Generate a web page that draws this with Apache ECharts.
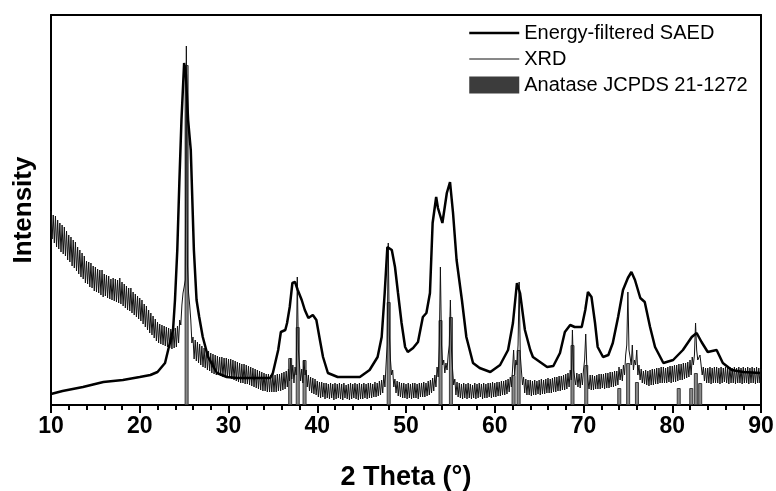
<!DOCTYPE html>
<html>
<head>
<meta charset="utf-8">
<script src="https://cdn.jsdelivr.net/npm/echarts@6/dist/echarts.min.js"></script>
<style>
  html, body { margin: 0; padding: 0; background: #fff; }
  #chart { width: 776px; height: 491px; }
</style>
</head>
<body>
<div id="chart"></div>
<script>
// Energy-filtered SAED profile (2theta, intensity a.u.)
var saedTheta = [10.0, 11.3, 13.6, 15.9, 18.1, 20.0, 21.2, 22.0, 22.85, 23.2, 23.75, 23.97, 24.23, 24.46, 24.7,
  25.0, 25.2, 25.45, 25.75, 26.1, 26.4, 26.7, 27.1, 27.7, 28.7, 29.8, 31.0, 34.7, 35.0, 35.6, 35.9, 36.4,
  36.6, 36.9, 37.2, 37.5, 37.8, 38.25, 38.6, 39.0, 39.5, 39.9, 40.3, 40.65, 41.2, 42.3, 44.8, 45.9, 46.8,
  47.26, 47.6, 47.9, 48.4, 48.76, 49.1, 49.5, 49.9, 50.2, 50.8, 51.35, 51.9, 52.3, 52.7, 53.0, 53.4, 53.6,
  54.1, 54.6, 54.96, 55.3, 55.7, 56.3, 56.8, 57.55, 58.3, 59.5, 60.6, 61.5, 62.05, 62.5, 62.85, 63.4, 64.0,
  64.3, 65.9, 66.6, 67.35, 67.9, 68.5, 69.0, 69.8, 70.2, 70.5, 70.9, 71.3, 71.6, 72.2, 72.8, 73.3, 73.9,
  74.45, 75.0, 75.4, 75.8, 76.4, 76.9, 77.5, 78.06, 79.0, 80.1, 81.2, 82.2, 82.75, 83.3, 84.0, 85.0, 85.7,
  86.7, 88.0, 89.9];
var saedI = [11, 14, 18, 23, 25, 28, 30, 33, 42, 55, 75, 105, 155, 222, 285,
  342, 330, 285, 255, 155, 105, 88, 68, 48, 32, 28, 27, 27, 32, 55, 73, 75,
  82, 98, 122, 123, 115, 105, 95, 87, 90, 85, 65, 48, 32, 28, 28, 35, 48,
  68, 112, 158, 155, 138, 112, 82, 58, 53, 57, 63, 88, 92, 112, 182, 208, 197,
  182, 212, 223, 192, 145, 105, 68, 42, 37, 33, 40, 55, 82, 122, 112, 75, 55,
  48, 38, 39, 52, 73, 80, 78, 78, 95, 113, 108, 82, 58, 48, 50, 62, 88,
  115, 127, 133, 125, 107, 103, 78, 58, 42, 45, 55, 68, 72, 63, 53, 55, 42,
  35, 33, 32];

// XRD scan, one value every 0.125 deg from 10 to 90 (one line = 5 deg)
var xrdStart = 10;
var xrdStep = 0.125;
var xrdI = [
  194, 166, 190, 162, 189, 158, 185, 156, 182, 153, 180, 151, 178, 149, 174, 145, 170, 143, 168, 139, 165, 137, 163, 134, 158, 131, 155, 128, 152, 126, 149, 122, 144, 121, 143, 118, 142, 117, 139, 114,
  138, 113, 136, 112, 135, 110, 135, 108, 131, 109, 130, 107, 129, 106, 126, 105, 127, 104, 126, 103, 125, 102, 127, 101, 123, 99, 121, 97, 119, 95, 117, 94, 117, 92, 113, 90, 111, 88, 109, 86,
  107, 84, 105, 81, 101, 78, 99, 75, 95, 72, 92, 70, 89, 67, 86, 64, 83, 62, 81, 61, 80, 60, 79, 59, 78, 58, 77, 57, 76, 56, 76, 57, 77, 58, 79, 62, 85, 80, 100, 112,
  118, 125, 359, 140, 112, 100, 85, 62, 68, 46, 65, 44, 63, 42, 61, 40, 59, 38, 57, 37, 55, 35, 54, 34, 52, 32, 51, 31, 50, 30, 49, 30, 48, 29, 48, 28, 47, 28, 47, 27,
  46, 27, 46, 26, 45, 25, 44, 24, 43, 23, 42, 22, 41, 22, 41, 21, 40, 21, 39, 20, 38, 19, 37, 18, 36, 17, 35, 16, 34, 15, 33, 14, 32, 14, 31, 13, 31, 13, 30, 13,
  31, 13, 30, 13, 31, 14, 31, 14, 32, 15, 33, 16, 34, 18, 36, 24, 47, 26, 40, 22, 38, 30, 128, 55, 40, 24, 36, 22, 45, 30, 35, 18, 30, 14, 28, 12, 27, 11, 26, 10,
  24, 8, 23, 7, 23, 8, 22, 6, 22, 7, 21, 6, 22, 7, 21, 5, 22, 6, 21, 7, 22, 6, 21, 5, 22, 7, 20, 6, 21, 5, 22, 6, 21, 7, 22, 6, 21, 5, 22, 6,
  21, 6, 22, 7, 21, 6, 22, 7, 22, 7, 21, 8, 23, 8, 22, 9, 24, 10, 25, 12, 30, 18, 40, 60, 162, 70, 45, 30, 35, 18, 26, 12, 24, 9, 23, 8, 22, 7, 22, 7,
  21, 6, 22, 7, 21, 6, 22, 7, 22, 7, 21, 6, 22, 8, 22, 8, 23, 8, 22, 9, 24, 10, 25, 12, 27, 14, 30, 18, 38, 28, 60, 138, 60, 40, 45, 32, 42, 35, 50, 60,
  105, 55, 35, 20, 26, 10, 23, 8, 22, 7, 21, 6, 22, 7, 21, 6, 22, 7, 21, 6, 20, 7, 22, 6, 21, 7, 22, 8, 21, 6, 22, 7, 21, 7, 22, 8, 22, 7, 23, 8,
  22, 8, 23, 9, 23, 9, 24, 10, 24, 10, 25, 11, 26, 13, 28, 18, 35, 55, 30, 45, 40, 60, 123, 50, 35, 20, 28, 12, 26, 10, 25, 10, 25, 9, 24, 10, 25, 10, 24, 11,
  25, 10, 26, 11, 25, 11, 26, 12, 27, 12, 26, 12, 27, 13, 28, 13, 28, 14, 29, 14, 29, 15, 30, 15, 31, 16, 32, 18, 35, 25, 75, 35, 33, 20, 32, 18, 31, 17, 32, 20,
  35, 45, 71, 38, 25, 16, 30, 15, 30, 15, 29, 16, 30, 16, 31, 16, 31, 17, 31, 16, 32, 17, 32, 17, 33, 18, 33, 18, 34, 19, 34, 20, 38, 25, 36, 24, 40, 30, 50, 60,
  113, 55, 48, 40, 60, 35, 45, 40, 55, 30, 40, 25, 36, 22, 34, 21, 35, 20, 34, 19, 35, 20, 36, 20, 36, 21, 37, 21, 37, 22, 38, 22, 38, 22, 37, 22, 38, 23, 39, 22,
  39, 23, 40, 23, 40, 24, 41, 25, 41, 25, 42, 26, 42, 27, 43, 28, 45, 30, 48, 40, 50, 82, 55, 45, 45, 50, 40, 30, 38, 24, 37, 22, 37, 22, 38, 21, 37, 22, 38, 22,
  38, 22, 37, 21, 38, 22, 37, 23, 38, 22, 37, 21, 38, 22, 37, 22, 38, 21, 37, 22, 38, 22, 37, 21, 38, 22, 37, 22, 38, 21, 37, 22, 38, 22, 37, 21, 38, 22, 37, 22,
  36
];

// Anatase JCPDS 21-1272 reference lines
var jcpdsTheta = [25.28, 36.95, 37.80, 38.57, 48.05, 53.89, 55.06, 62.12, 62.69, 68.76, 70.31,
  74.03, 75.03, 76.02, 80.73, 82.14, 82.66, 83.15];
var jcpdsI = [340, 47, 78, 45, 103, 85, 88, 30, 55, 60, 40, 17, 42, 23, 17, 17, 32, 22];

var font = 'Liberation Sans, Arial, sans-serif';

var saedData = saedTheta.map(function (t, i) { return [t, saedI[i]]; });
var xrdData = xrdI.map(function (v, i) { return [xrdStart + i * xrdStep, v]; });
var jcpdsData = jcpdsTheta.map(function (t, i) { return [t, jcpdsI[i]]; });

var chart = echarts.init(document.getElementById('chart'));
var frameLine = { show: true, onZero: false, lineStyle: { color: '#000', width: 2 } };
var noSymbol = { opacity: 0, borderWidth: 0 };

chart.setOption({
  animation: false,
  backgroundColor: '#fff',
  grid: { left: 51, right: 15, top: 15, bottom: 86, outerBoundsMode: 'none' },
  legend: {
    orient: 'vertical',
    left: 468,
    top: 23,
    padding: 0,
    itemWidth: 50,
    itemHeight: 17,
    itemGap: 6,
    textStyle: { color: '#000', fontSize: 20, fontFamily: font },
    data: [
      { name: 'Energy-filtered SAED', itemStyle: noSymbol, lineStyle: { width: 2.5, color: '#000' } },
      { name: 'XRD', itemStyle: noSymbol, lineStyle: { width: 1, color: '#111' } },
      { name: 'Anatase JCPDS 21-1272', icon: 'rect', itemStyle: { color: '#3c3c3c', borderWidth: 0 } }
    ]
  },
  xAxis: [{
    type: 'value',
    min: 10,
    max: 90,
    interval: 10,
    position: 'bottom',
    axisLine: frameLine,
    axisTick: { show: true, inside: false, length: 8, lineStyle: { color: '#000', width: 2 } },
    minorTick: { show: true, splitNumber: 5, length: 5, lineStyle: { color: '#000', width: 2 } },
    splitLine: { show: false },
    axisLabel: { color: '#000', fontSize: 23, fontWeight: 'bold', fontFamily: font, margin: 10 },
    name: '2 Theta (°)',
    nameLocation: 'middle',
    nameGap: 59,
    nameTextStyle: { color: '#000', fontSize: 27, fontWeight: 'bold', fontFamily: font }
  }, {
    type: 'value',
    min: 10,
    max: 90,
    position: 'top',
    axisLine: frameLine,
    axisTick: { show: false },
    axisLabel: { show: false },
    splitLine: { show: false }
  }],
  yAxis: [{
    type: 'value',
    min: 0,
    max: 390,
    axisLine: frameLine,
    axisTick: { show: false },
    axisLabel: { show: false },
    splitLine: { show: false },
    name: 'Intensity',
    nameLocation: 'middle',
    nameGap: 14,
    nameTextStyle: { color: '#000', fontSize: 26, fontWeight: 'bold', fontFamily: font }
  }, {
    type: 'value',
    min: 0,
    max: 390,
    position: 'right',
    axisLine: frameLine,
    axisTick: { show: false },
    axisLabel: { show: false },
    splitLine: { show: false }
  }],
  series: [{
    name: 'Anatase JCPDS 21-1272',
    type: 'bar',
    data: jcpdsData,
    barWidth: 4,
    z: 1,
    itemStyle: { color: '#8a8a8a', borderColor: '#3a3a3a', borderWidth: 1 }
  }, {
    name: 'XRD',
    type: 'line',
    data: xrdData,
    symbol: 'none',
    z: 2,
    itemStyle: { color: '#111' },
    lineStyle: { color: '#111', width: 1 }
  }, {
    name: 'Energy-filtered SAED',
    type: 'line',
    data: saedData,
    symbol: 'none',
    z: 3,
    itemStyle: { color: '#000' },
    lineStyle: { color: '#000', width: 2.5 }
  }]
});
</script>
</body>
</html>
